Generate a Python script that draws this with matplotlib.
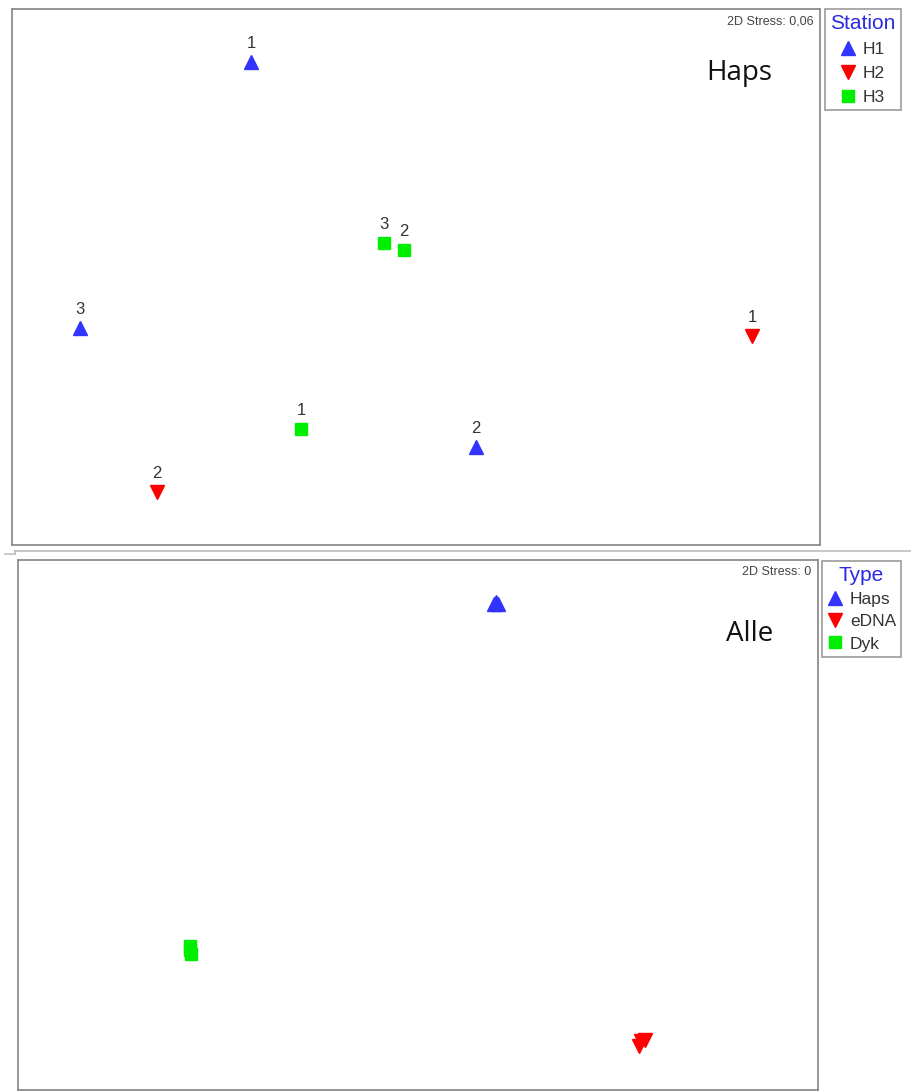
import matplotlib
matplotlib.use("Agg")
import matplotlib.pyplot as plt
from matplotlib.lines import Line2D

plt.rcParams['font.family'] = ['Liberation Sans', 'DejaVu Sans']

# NMDS ordination, Haps stations (MDS1, MDS2) with replicate labels
stations = ['H1', 'H2', 'H3']
haps_x = {'H1': [-1.65, 0.60, -3.36], 'H2': [3.36, -2.59], 'H3': [-1.15, -0.12, -0.32]}
haps_y = {'H1': [2.15, -1.70, -0.51], 'H2': [-0.59, -2.15], 'H3': [-1.52, 0.27, 0.34]}
haps_lab = {'H1': ['1', '2', '3'], 'H2': ['1', '2'], 'H3': ['1', '2', '3']}
haps_stress = '2D Stress: 0,06'

# NMDS ordination, all sample types (replicates nearly coincide)
types = ['Haps', 'eDNA', 'Dyk']
alle_x = {'Haps': [0.76, 0.80, 0.78], 'eDNA': [2.23, 2.27, 2.21], 'Dyk': [-2.28, -2.27, -2.28]}
alle_y = {'Haps': [2.21, 2.21, 2.23], 'eDNA': [-2.16, -2.15, -2.21], 'Dyk': [-1.21, -1.29, -1.25]}
alle_stress = '2D Stress: 0'

markers = ['^', 'v', 's']
colors = ['#3333ff', '#ff0000', '#00ee00']
sizes = [10, 10, 8.5]

W, H = 912, 1091
fig = plt.figure(figsize=(W / 100, H / 100), dpi=100)


def px_axes(x0, y0, x1, y1):
    return fig.add_axes([x0 / W, 1 - y1 / H, (x1 - x0) / W, (y1 - y0) / H])


def style_frame(ax):
    ax.set_xticks([])
    ax.set_yticks([])
    for sp in ax.spines.values():
        sp.set_color('#8c8c8c')
        sp.set_linewidth(1.3)


def add_legend(ax, title, names, anchor, spacing):
    handles = [Line2D([], [], ls='none', marker=m, color=c, markersize=s * 0.95)
               for m, c, s in zip(markers, colors, sizes)]
    leg = ax.legend(handles, names, title=title, loc='upper left',
                    bbox_to_anchor=(anchor[0] / W, 1 - anchor[1] / H),
                    bbox_transform=fig.transFigure, borderaxespad=0,
                    frameon=True, fancybox=False, fontsize=12.5,
                    title_fontsize=15, handlelength=0.9, handletextpad=0.4,
                    labelspacing=spacing, borderpad=0.3)
    leg.get_title().set_color('#2a2ae0')
    leg.get_frame().set_edgecolor('#8c8c8c')
    leg.get_frame().set_linewidth(1.3)
    for t in leg.get_texts():
        t.set_color('#333333')
    return leg


# top panel: Haps
ax1 = px_axes(12, 9, 820, 545)
style_frame(ax1)
ax1.set_xlim(-4.04, 4.04)
ax1.set_ylim(-2.68, 2.68)
for st, m, c, s in zip(stations, markers, colors, sizes):
    ax1.plot(haps_x[st], haps_y[st], ls='none', marker=m, color=c, markersize=s)
    for x, y, lab in zip(haps_x[st], haps_y[st], haps_lab[st]):
        ax1.annotate(lab, (x, y), xytext=(0, 8), textcoords='offset points',
                     ha='center', va='bottom', fontsize=12, color='#333333')
ax1.text(0.992, 0.988, haps_stress, transform=ax1.transAxes, ha='right', va='top',
         fontsize=9, color='#444444')
ax1.text(0.90, 0.88, 'Haps', transform=ax1.transAxes, ha='center', va='center',
         fontsize=20, family=['Open Sans', 'DejaVu Sans'], color='#111111')
add_legend(ax1, 'Station', stations, (825, 9), 0.5)

# bottom panel: Alle
ax2 = px_axes(18, 560, 818, 1090)
style_frame(ax2)
ax2.set_xlim(-4.0, 4.0)
ax2.set_ylim(-2.65, 2.65)
for ty, m, c, s in zip(types, markers, colors, sizes):
    ax2.plot(alle_x[ty], alle_y[ty], ls='none', marker=m, color=c, markersize=s)
ax2.text(0.992, 0.988, alle_stress, transform=ax2.transAxes, ha='right', va='top',
         fontsize=9, color='#444444')
ax2.text(0.915, 0.86, 'Alle', transform=ax2.transAxes, ha='center', va='center',
         fontsize=20, family=['Open Sans', 'DejaVu Sans'], color='#111111')
add_legend(ax2, 'Type', types, (822, 561), 0.4)

# separator between the two panels
fig.add_artist(Line2D([15 / W, 1], [1 - 551 / H] * 2, color='#bdbdbd', lw=1.2))
fig.add_artist(Line2D([5 / W, 15 / W], [1 - 554 / H] * 2, color='#bdbdbd', lw=1.2))
fig.add_artist(Line2D([15 / W, 15 / W], [1 - 551 / H, 1 - 554 / H], color='#bdbdbd', lw=1.2))

fig.savefig('out.png', dpi=100)
